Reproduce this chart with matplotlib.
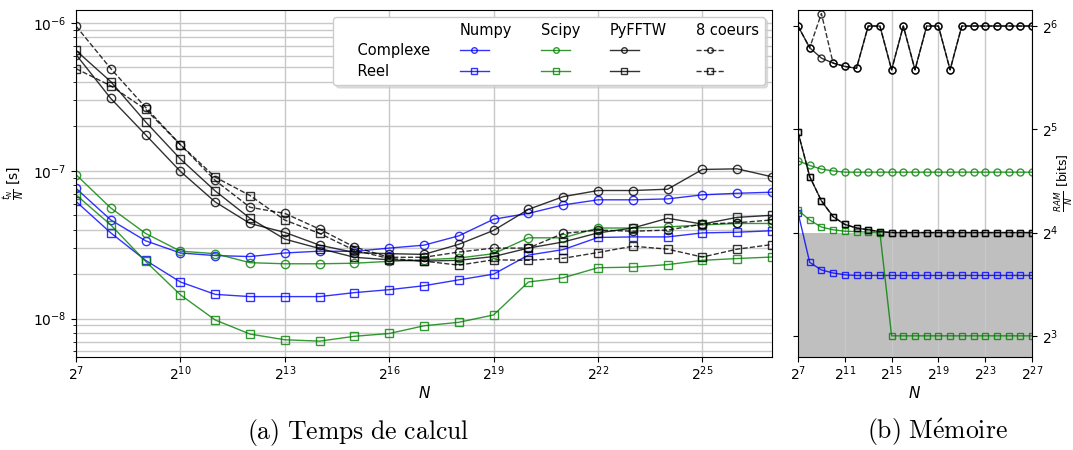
import numpy as np
import matplotlib
matplotlib.use('Agg')
import matplotlib.pyplot as plt
from matplotlib.lines import Line2D
from matplotlib.ticker import NullLocator, FixedLocator, LogFormatterSciNotation

plt.rcParams['mathtext.fontset'] = 'dejavusans'

# ── data ──────────────────────────────────────────────────────────────────────
exps = [7, 8, 9, 10, 11, 12, 13, 14, 15, 16, 17, 18, 19, 20, 21, 22, 23, 24, 25, 26, 27]
N = [2.0 ** e for e in exps]

# t_N / N  [s]
t_numpy_c = [7.6e-8, 4.65e-8, 3.36e-8, 2.78e-8, 2.67e-8, 2.63e-8, 2.78e-8, 2.86e-8, 2.85e-8, 3.0e-8, 3.14e-8,
             3.63e-8, 4.7e-8, 5.15e-8, 5.87e-8, 6.36e-8, 6.36e-8, 6.45e-8, 6.87e-8, 7.04e-8, 7.16e-8]
t_numpy_r = [6.2e-8, 3.8e-8, 2.48e-8, 1.77e-8, 1.46e-8, 1.41e-8, 1.41e-8, 1.41e-8, 1.5e-8, 1.57e-8, 1.67e-8,
             1.83e-8, 2.0e-8, 2.69e-8, 2.93e-8, 3.54e-8, 3.57e-8, 3.57e-8, 3.8e-8, 3.84e-8, 3.93e-8]
t_scipy_c = [9.4e-8, 5.6e-8, 3.77e-8, 2.86e-8, 2.75e-8, 2.39e-8, 2.35e-8, 2.35e-8, 2.37e-8, 2.44e-8, 2.5e-8,
             2.57e-8, 2.75e-8, 3.52e-8, 3.52e-8, 4.1e-8, 4.1e-8, 4.17e-8, 4.3e-8, 4.4e-8, 4.4e-8]
t_scipy_r = [6.87e-8, 4.3e-8, 2.44e-8, 1.45e-8, 9.8e-9, 7.87e-9, 7.2e-9, 7.05e-9, 7.6e-9, 7.94e-9, 8.95e-9,
             9.45e-9, 1.06e-8, 1.77e-8, 1.89e-8, 2.21e-8, 2.23e-8, 2.32e-8, 2.48e-8, 2.55e-8, 2.61e-8]
t_fftw_c = [6.1e-7, 3.08e-7, 1.75e-7, 9.9e-8, 6.15e-8, 4.4e-8, 3.83e-8, 3.14e-8, 2.8e-8, 2.75e-8, 2.72e-8,
            3.18e-8, 3.95e-8, 5.48e-8, 6.68e-8, 7.35e-8, 7.35e-8, 7.5e-8, 1.02e-7, 1.03e-7, 9.1e-8]
t_fftw_r = [6.5e-7, 4.0e-7, 2.14e-7, 1.2e-7, 7.3e-8, 4.77e-8, 3.45e-8, 2.98e-8, 2.6e-8, 2.5e-8, 2.45e-8,
            2.48e-8, 2.63e-8, 3.0e-8, 3.3e-8, 3.8e-8, 4.1e-8, 4.77e-8, 4.36e-8, 4.84e-8, 5.0e-8]
t_8c_c = [9.5e-7, 4.9e-7, 2.68e-7, 1.5e-7, 8.6e-8, 5.66e-8, 5.15e-8, 4.03e-8, 3.05e-8, 2.6e-8, 2.6e-8,
          2.82e-8, 3.0e-8, 3.0e-8, 3.77e-8, 3.97e-8, 3.9e-8, 3.97e-8, 4.36e-8, 4.45e-8, 4.65e-8]
t_8c_r = [4.9e-7, 3.75e-7, 2.6e-7, 1.5e-7, 9.05e-8, 6.8e-8, 4.64e-8, 3.77e-8, 2.9e-8, 2.55e-8, 2.45e-8,
          2.3e-8, 2.5e-8, 2.48e-8, 2.56e-8, 2.8e-8, 3.09e-8, 2.95e-8, 2.61e-8, 2.95e-8, 3.17e-8]

# RAM / N  [bits]
m_numpy_r = [18.3, 13.1, 12.45, 12.2, 12.05, 12.0, 12.0, 12.0, 12.0, 12.0, 12.0,
             12.0, 12.0, 12.0, 12.0, 12.0, 12.0, 12.0, 12.0, 12.0, 12.0]
m_scipy_c = [25.9, 25.1, 24.5, 24.2, 24.0, 24.0, 24.0, 24.0, 24.0, 24.0, 24.0,
             24.0, 24.0, 24.0, 24.0, 24.0, 24.0, 24.0, 24.0, 24.0, 24.0]
m_scipy_r = [18.6, 17.4, 16.6, 16.3, 16.15, 16.1, 16.05, 16.0, 8, 8, 8,
             8, 8, 8, 8, 8, 8, 8, 8, 8, 8]
m_fftw_c = [64, 55.3, 51.6, 49.9, 48.8, 48.2, 64, 64, 47.7, 64, 47.7,
            64, 64, 47.7, 64, 64, 64, 64, 64, 64, 64]
m_fftw_r = [31.4, 23.3, 19.8, 17.8, 16.9, 16.5, 16.3, 16.1, 16, 16, 16,
            16, 16, 16, 16, 16, 16, 16, 16, 16, 16]
m_8c_c = [64, 55.3, 69.6, 49.9, 48.8, 48.2, 64, 64, 47.7, 64, 47.7,
          64, 64, 47.7, 64, 64, 64, 64, 64, 64, 64]
m_8c_r = [31.4, 23.3, 19.8, 17.8, 16.9, 16.5, 16.3, 16.1, 16, 16, 16,
          16, 16, 16, 16, 16, 16, 16, 16, 16, 16]
m_limit = 16

# ── figure ────────────────────────────────────────────────────────────────────
fig = plt.figure(figsize=(10.73, 4.5), dpi=100)
ax = fig.add_axes([76 / 1073, 1 - 356.5 / 450, (772 - 76) / 1073, 347 / 450])
ax2 = fig.add_axes([798 / 1073, 1 - 356.5 / 450, (1032 - 798) / 1073, 347 / 450])

A = 0.8
sty = dict(lw=1.0, mfc='none', mew=1.0, ms=6, alpha=A)


def draw(a, y, c, m, ls='-', **kw):
    kk = dict(sty)
    kk.update(kw)
    a.plot(N, y, color=c, marker=m, ls=ls, **kk)


draw(ax, t_numpy_c, 'b', 'o')
draw(ax, t_numpy_r, 'b', 's')
draw(ax, t_scipy_c, 'g', 'o')
draw(ax, t_scipy_r, 'g', 's')
draw(ax, t_fftw_c, 'k', 'o')
draw(ax, t_fftw_r, 'k', 's')
draw(ax, t_8c_c, 'k', 'o', ls='--')
draw(ax, t_8c_r, 'k', 's', ls='--')

ax.set_xscale('log', base=2)
ax.set_yscale('log')
ax.set_xlim(2 ** 7, 2 ** 27)
ax.set_ylim(5.55e-9, 1.23e-6)
ax.xaxis.set_major_locator(FixedLocator([2.0 ** e for e in range(7, 27, 3)]))
ax.xaxis.set_minor_locator(NullLocator())
ax.grid(True, which='major', axis='x', color='#c8c8c8', lw=1.0)
ax.grid(True, which='both', axis='y', color='#c8c8c8', lw=1.0)
ax.tick_params(labelsize=10)
ax.tick_params(axis='x', pad=2.5)
ax.set_xlabel('$N$', fontsize=11, labelpad=1)
ax.set_ylabel(r'$\frac{t_N}{N}$ [s]', fontsize=10)
ax.yaxis.set_label_coords(-0.071, 0.5)

# two-row table legend: rows = Complexe/Reel, columns = library
blank = Line2D([], [], ls='none')


def h(c, m, ls='-'):
    return Line2D([], [], color=c, marker=m, ls=ls, lw=1.0, mfc='none', mew=1.0, ms=4, alpha=A)


handles = [blank, blank, blank,
           blank, h('b', 'o'), h('b', 's'),
           blank, h('g', 'o'), h('g', 's'),
           blank, h('k', 'o'), h('k', 's'),
           blank, h('k', 'o', '--'), h('k', 's', '--')]
labels = ['', '    Complexe', '    Reel',
          'Numpy', '', '',
          'Scipy', '', '',
          'PyFFTW', '', '',
          '8 coeurs', '', '']
leg = ax.legend(handles, labels, ncol=5, loc='upper right', fontsize=10.5,
                handlelength=2.0, handletextpad=-2.0, columnspacing=2.0,
                labelspacing=0.4, framealpha=1, fancybox=True,
                shadow={'color': '0.8', 'alpha': 0.6}, edgecolor='0.8')

# memory panel
ax2.axhspan(6.0, m_limit, facecolor='#bfbfbf', edgecolor='none', zorder=0)
sty2 = dict(ms=5)
draw(ax2, m_numpy_r, 'b', 's', **sty2)
draw(ax2, m_scipy_c, 'g', 'o', **sty2)
draw(ax2, m_scipy_r, 'g', 's', **sty2)
draw(ax2, m_8c_c, 'k', 'o', ls='--', **sty2)
draw(ax2, m_8c_r, 'k', 's', ls='--', **sty2)
draw(ax2, m_fftw_c, 'k', 'o', **sty2)
draw(ax2, m_fftw_r, 'k', 's', **sty2)

ax2.set_xscale('log', base=2)
ax2.set_yscale('log', base=2)
ax2.set_xlim(2 ** 7, 2 ** 27)
ax2.set_ylim(2 ** 2.8, 2 ** 6.16)
ax2.xaxis.set_major_locator(FixedLocator([2.0 ** e for e in range(7, 28, 4)]))
ax2.xaxis.set_minor_locator(NullLocator())
ax2.yaxis.set_major_locator(FixedLocator([8, 16, 32, 64]))
ax2.yaxis.set_minor_locator(NullLocator())
ax2.yaxis.set_major_formatter(LogFormatterSciNotation(base=2))
ax2.grid(True, which='major', axis='x', color='#c8c8c8', lw=1.0)
ax2.tick_params(axis='y', left=True, right=True, labelleft=False, labelright=True)
ax2.tick_params(labelsize=10)
ax2.tick_params(axis='x', pad=2.5)
ax2.yaxis.set_label_position('right')
ax2.set_xlabel('$N$', fontsize=11, labelpad=1)
ax2.set_ylabel(r'$\frac{RAM}{N}$ [bits]', fontsize=9)
ax2.yaxis.set_label_coords(1.09, 0.5)

# captions in Computer Modern
cap = dict(fontsize=18.5, ha='center', va='center', math_fontfamily='cm')
fig.text(358 / 1073, 1 - 432 / 450, r'$\mathrm{(a)\ Temps\ de\ calcul}$', **cap)
fig.text(937 / 1073, 1 - 432 / 450, r'$\mathrm{(b)\ M\acute{e}moire}$', **cap)

fig.savefig('out.png', dpi=100)
